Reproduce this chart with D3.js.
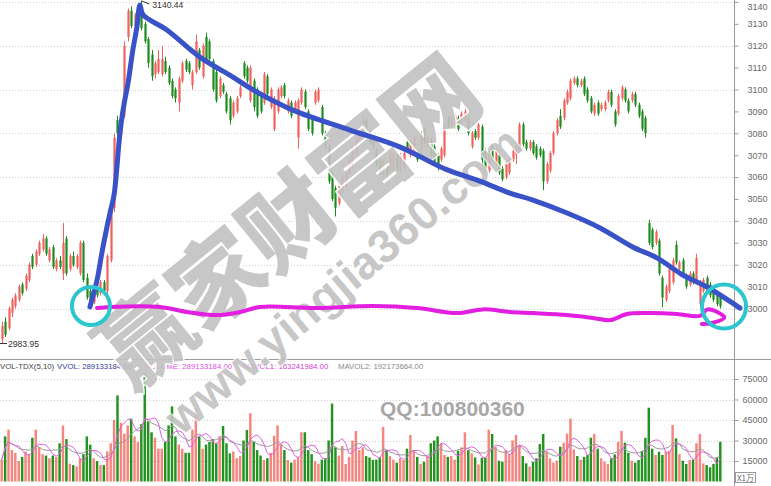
<!DOCTYPE html>
<html><head><meta charset="utf-8">
<script src="https://cdn.jsdelivr.net/npm/d3@7"></script>
<style>body{margin:0;background:#fff;overflow:hidden}svg{display:block}</style>
</head><body><svg id="c" width="771" height="486"></svg>
<script>
// ---------- DATA ----------
const opens = [
2986,2994,2991,2998,3001,3004,3011,3009,3013,3024, 3020,3025,3027,3032,3022,3028,3018,3022,3016,3032,
3018,3024,3019,3016,3030,3014,3008,3003,3009,3007, 3012,3008,3022,3046,3086,3080,3088,3124,3136,3129,
3133,3137,3130,3123,3116,3107,3108,3107,3113,3110, 3104,3100,3094,3104,3113,3112,3102,3108,3118,3106,
3124,3122,3113,3108,3097,3102,3098,3096,3088,3090, 3097,3112,3110,3095,3104,3100,3097,3094,3106,3092,
3082,3090,3097,3102,3090,3094,3090,3078,3094,3099, 3090,3086,3094,3095,3092,3080,3074,3062,3055,3048,
3053,3056,3062,3065,3070,3077,3080,3086,3080,3078, 3072,3068,3061,3066,3063,3064,3070,3063,3064,3076,
3070,3072,3071,3073,3082,3074,3077,3074,3070,3068, 3070,3087,3083,3084,3087,3085,3086,3087,3074,3081,
3078,3083,3072,3063,3074,3066,3070,3064,3060,3062, 3068,3070,3072,3084,3076,3073,3076,3074,3073,3072,
3058,3063,3071,3080,3088,3087,3094,3096,3103,3105, 3102,3105,3100,3096,3089,3094,3091,3091,3095,3099,
3090,3089,3096,3100,3095,3095,3098,3093,3090,3087, 3039,3036,3030,3031,3014,3004,3008,3012,3029,3018,
3022,3015,3011,3016,3012,3002,3008,3014,3011,3008, 3007,3005];
const highs = [
2994,2996,3001,3005,3007,3011,3012,3016,3021,3025, 3027,3031,3034,3033,3028,3029,3023,3024,3039,3033,
3025,3026,3025,3031,3031,3016,3009,3009,3010,3013, 3013,3025,3045,3080,3088,3090,3122,3137,3138,3135,
3139,3140.44,3131,3124,3118,3113,3118,3120,3115,3111, 3105,3101,3106,3113,3114,3113,3109,3125,3119,3121,
3126,3123,3114,3109,3106,3103,3099,3097,3095,3097, 3102,3113,3111,3111,3105,3101,3098,3108,3107,3101,
3097,3101,3102,3103,3096,3095,3095,3096,3101,3100, 3091,3087,3100,3101,3093,3081,3075,3063,3056,3057,
3061,3063,3069,3075,3078,3083,3088,3087,3081,3079, 3073,3069,3068,3067,3072,3071,3071,3071,3072,3077,
3077,3079,3072,3081,3083,3079,3078,3075,3071,3074, 3085,3088,3088,3089,3088,3090,3091,3088,3081,3082,
3085,3084,3073,3071,3075,3073,3071,3065,3067,3069, 3073,3075,3085,3085,3077,3077,3077,3075,3074,3073,
3067,3072,3081,3087,3091,3096,3100,3105,3106,3106, 3105,3106,3101,3097,3094,3095,3094,3095,3100,3100,
3091,3098,3102,3101,3096,3099,3099,3094,3091,3088, 3040.5,3037,3036,3032,3015,3011,3019,3023,3031,3022,
3023,3016,3017,3017,3025,3013,3014,3015,3012,3009, 3008,3006];
const lows = [
2984,2987,2990,2996,3000,3003,3006,3008,3012,3018, 3019,3024,3026,3024,3021,3018,3017,3018,3013,3015,
3017,3019,3018,3015,3012,3004,3001,3002,3005,3006, 3007,3007,3021,3044,3079,3079,3087,3122,3128,3127,
3131,3127,3121,3110,3104,3105,3107,3106,3107,3102, 3096,3094,3090,3103,3108,3107,3100,3107,3109,3105,
3112,3113,3099,3094,3096,3098,3089,3084,3087,3089, 3096,3105,3103,3094,3090,3087,3089,3093,3097,3091,
3081,3089,3096,3096,3089,3087,3089,3073,3093,3091, 3081,3079,3093,3094,3079,3073,3057,3049,3042,3047,
3052,3055,3061,3064,3069,3076,3079,3077,3075,3073, 3065,3061,3060,3060,3062,3063,3063,3062,3063,3071,
3069,3071,3067,3072,3075,3073,3069,3065,3063,3067, 3069,3082,3082,3083,3081,3084,3085,3079,3073,3077,
3077,3065,3063,3062,3067,3065,3061,3058,3059,3061, 3067,3066,3071,3074,3072,3072,3070,3068,3069,3054,
3057,3062,3070,3079,3082,3086,3093,3095,3102,3101, 3101,3097,3094,3089,3088,3088,3090,3090,3094,3092,
3083,3088,3095,3094,3089,3094,3092,3087,3081,3078, 3029,3027,3029,3015,3000.5,3003,3007,3011,3020,3017,
3014,3009,3010,3011,3011,3001,3007,3007,3005,3003, 3001,3000];
const closes = [
2992,2988,3000,3004,3006,3010,3007,3015,3020,3019, 3026,3030,3032,3025,3027,3019,3022,3019,3030,3016,
3024,3020,3024,3030,3013,3005,3002,3008,3006,3012, 3008,3024,3044,3078,3080,3088,3120,3136,3129,3134,
3138,3128,3122,3112,3106,3112,3114,3114,3108,3103, 3097,3096,3105,3112,3109,3108,3108,3122,3110,3120,
3113,3114,3100,3095,3105,3099,3090,3086,3094,3096, 3101,3106,3104,3110,3092,3088,3090,3107,3098,3100,
3096,3100,3101,3097,3095,3088,3094,3095,3100,3092, 3082,3080,3099,3100,3080,3074,3058,3050,3046,3056,
3060,3062,3068,3074,3077,3082,3086,3078,3076,3074, 3066,3062,3067,3061,3071,3070,3064,3070,3071,3072,
3076,3078,3068,3080,3076,3078,3070,3066,3064,3073, 3084,3083,3087,3088,3082,3089,3090,3080,3080,3078,
3084,3068,3064,3070,3068,3072,3062,3059,3066,3068, 3072,3074,3084,3075,3073,3076,3071,3069,3070,3058,
3066,3071,3080,3086,3083,3095,3099,3104,3105,3102, 3104,3098,3095,3090,3093,3089,3093,3094,3099,3093,
3084,3097,3101,3095,3090,3098,3093,3088,3082,3080, 3030,3028,3035,3016,3005,3010,3018,3022,3021,3021,
3015,3010,3016,3012,3023,3012,3013,3008,3006,3004, 3002,3001];
const volumes = [ // x1万
16000,33000,38000,23000,21000,15000,18000,22000,20000,32000, 38000,25000,20000,19000,17000,19000,18000,28000,41000,31000,
13000,12000,11000,17000,20000,33000,27000,17000,15000,12000, 12000,22000,28000,45000,63000,43000,35000,41000,46000,33000,
29000,42000,79000,44000,36000,32000,24000,24000,29000,41000, 55000,33000,27000,24000,21000,21000,
38000,53600,33000,24000,27000,29000,31000,28000,33000,40600, 28000,20600,22000,17000,18600,30000,37700,50000,29000,23000,
19000,15700,17000,21000,33500,41000,27000,23000,15700,13800, 16000,18000,36000,36000,23000,20000,15000,13000,16000,17000,
30000,57000,25000,19000,26000,12800,18000,30000,37000,23000, 25000,18600,17600,15700,16000,17600,
40000,23000,18600,16000,13800,17000,15700,24000,34000,22500, 18000,12800,14500,18600,28000,30000,33000,28000,19400,18000,
18600,16000,22500,25000,36000,23000,20600,17600,12500,17400, 17600,38000,34800,25500,15200,14500,23000,20000,30000,34000,
26700,18600,13300,10900,14500,17000,27400,34800,21800,17000, 13800,15200,25500,28400,35000,46000,
23500,18600,16000,18000,19400,32000,34800,24000,17000,14500, 12800,17000,19800,29000,37000,28400,21000,15200,13800,15700,
22300,32000,54000,24000,19400,21800,19400,21800,22300,41400, 31600,20000,15200,12800,15700,16000,28000,34800,13300,12000,
10400,12800,17600,29000];
const priceTicks = [3000,3010,3020,3030,3040,3050,3060,3070,3080,3090,3100,3110,3120,3130,3140];
const priceGrid = [3000,3020,3040,3060,3080,3100,3120,3140];
const volTicks = [15000,30000,45000,60000,75000];
const peakLabel = "3140.44", lowLabel = "2983.95";
const headerItems = [
  {t:"VOL-TDX(5,10)", c:"#444", x:0},
  {t:"VVOL: 289133184.00", c:"#3a3a98", x:57},
  {t:"VOLUME: 289133184.00", c:"#e050e0", x:145},
  {t:"MAVOL1: 163241984.00", c:"#d040d0", x:243},
  {t:"MAVOL2: 192173664.00", c:"#8a8a8a", x:338}
];
// hand-drawn annotations, in (candle index, price) space
const blueTrend = [[25.9,3000.7],[28.0,3013],[29.4,3025.3],[30.9,3037.2],[31.8,3043.6],[33.0,3052],[33.8,3064],
 [34.4,3075],[35.1,3085],[36.0,3094],[37.1,3103],[38.5,3118],[39.7,3128.5],[40.6,3138.6],
 [41.5,3134.1],[48.5,3127.2],[58.2,3114.8],[67.9,3105.7],[72.9,3100.7],[85.5,3090.6],[102.3,3081.5],
 [117,3073.7],[130.5,3063.5],[140.4,3058.2],[149.2,3052.7],[156,3049.5],[166,3043.6],[175.7,3036.8],
 [185.3,3028.1],[192.4,3023.1],[200,3015.3],[207.1,3009.8],[216.8,3000.2]];
const magentaLine = [[28.0,3000.2],[31.8,3000.7],[46.5,3000.7],[54.4,2998.4],[63.2,2997],[70,2998.4],[75.8,3000.7],
 [92.6,3000.2],[109,3001.1],[121.9,3000.2],[133.7,2997.9],[141.3,2999.6],[149.2,2998.4],[156,2997.9],
 [166,2997],[173.6,2995.7],[178.6,2994.7],[183.6,2997.5],[190.3,2997.9],[198.3,2997.5],[205,2996.6],
 [207.3,2999.6],[212.2,2995.9],[208.6,2993.4],[205.6,2992.9]];
const circles = [{i:26.2,p:3001.1,r:19},{i:212.1,p:3000.9,r:22}];

// ---------- CHART ----------
const N = closes.length;
const svg = d3.select("#c");
const W = 771, H = 486, axisX = 734, plotW = 722;
const xs = d3.scaleLinear().domain([-0.5, N - 0.5]).range([0, plotW]);
const step = xs(1) - xs(0);
const y = d3.scaleLinear().domain([3000, 3140]).range([308.5, 1.9]);
const yv = d3.scaleLinear().domain([0, 75000]).range([481.5, 379]);
const up = i => closes[i] >= opens[i];
const RED = "#f0625f", GREEN = "#1e8b1e", VRED = "#f5857f", VGREEN = "#23931f";

// gridlines
svg.append("g").selectAll("line").data(priceGrid).join("line")
  .attr("x1",0).attr("x2",axisX).attr("y1",d=>Math.round(y(d))+0.5).attr("y2",d=>Math.round(y(d))+0.5)
  .attr("stroke","#cfcfcf").attr("stroke-dasharray","1,2");
svg.append("g").selectAll("line").data(volTicks).join("line")
  .attr("x1",0).attr("x2",axisX).attr("y1",d=>Math.round(yv(d))+0.5).attr("y2",d=>Math.round(yv(d))+0.5)
  .attr("stroke","#cfcfcf").attr("stroke-dasharray","1,2");

// candles
const cg = svg.append("g");
const idx = d3.range(N);
cg.selectAll("line").data(idx).join("line")
  .attr("x1",i=>Math.round(xs(i))+0.5).attr("x2",i=>Math.round(xs(i))+0.5)
  .attr("y1",i=>y(highs[i])).attr("y2",i=>y(lows[i]))
  .attr("stroke",i=>up(i)?RED:GREEN).attr("stroke-width",1);
cg.selectAll("rect").data(idx).join("rect")
  .attr("x",i=>Math.round(xs(i))-0.6).attr("width",2.2)
  .attr("y",i=>y(Math.max(opens[i],closes[i])))
  .attr("height",i=>Math.max(1,Math.abs(y(opens[i])-y(closes[i]))))
  .attr("fill",i=>up(i)?RED:GREEN);

// volume bars
svg.append("g").selectAll("rect").data(idx).join("rect")
  .attr("x",i=>xs(i)-step*0.36).attr("width",step*0.72)
  .attr("y",i=>yv(volumes[i])).attr("height",i=>yv(0)-yv(volumes[i]))
  .attr("fill",i=>up(i)?VRED:VGREEN);

// moving averages of volume
function ma(n){ return idx.map(i=>d3.mean(volumes.slice(Math.max(0,i-n+1),i+1))); }
const ma5 = ma(5), ma10 = ma(10);
const vline = d3.line().x((d,i)=>xs(i)).y(d=>yv(d)).curve(d3.curveLinear);
svg.append("path").attr("d",vline(ma10)).attr("fill","none").attr("stroke","#9a9a9a").attr("stroke-width",1);
svg.append("path").attr("d",vline(ma5)).attr("fill","none").attr("stroke","#e060e0").attr("stroke-width",1);

// frame / separator
svg.append("line").attr("x1",0).attr("x2",W).attr("y1",359.5).attr("y2",359.5).attr("stroke","#9a9a9a");
svg.append("line").attr("x1",axisX+0.5).attr("x2",axisX+0.5).attr("y1",0).attr("y2",H).attr("stroke","#9a9a9a");

// axes
const pa = svg.append("g").attr("transform",`translate(${axisX+0.5},0)`)
  .call(d3.axisRight(y).tickValues(priceTicks).tickSize(4).tickPadding(9).tickFormat(d3.format("d")));
const va = svg.append("g").attr("transform",`translate(${axisX+0.5},0)`)
  .call(d3.axisRight(yv).tickValues(volTicks).tickSize(4).tickPadding(4).tickFormat(d3.format("d")));
[pa,va].forEach(a=>{
  a.select(".domain").remove();
  a.selectAll("line").attr("stroke","#9a9a9a");
  a.selectAll("text").attr("fill","#6a6a6a").style("font","9px 'Liberation Sans', Arial, sans-serif");
});
// keep the topmost price label inside the picture
pa.selectAll(".tick text").attr("dy",d=>y(d)<5?"0.85em":"0.32em");
// X1万 box
svg.append("rect").attr("x",735.5).attr("y",472.5).attr("width",20).attr("height",10).attr("fill","#fff").attr("stroke","#9a9a9a");
svg.append("text").attr("x",745.5).attr("y",480.5).attr("text-anchor","middle").attr("fill","#6a6a6a")
  .style("font","8px 'Noto Sans CJK SC', sans-serif").text("X1万");

// header
svg.append("g").selectAll("text").data(headerItems).join("text")
  .attr("x",d=>d.x).attr("y",369).attr("fill",d=>d.c)
  .style("font","7.8px 'Liberation Sans', Arial, sans-serif").text(d=>d.t);

// peak & low labels
const pk = d3.maxIndex(highs), lo = d3.minIndex(lows);
svg.append("path").attr("d",`M${xs(pk)},${y(highs[pk])} L${xs(pk)+8},${y(highs[pk])+3}`).attr("stroke","#333").attr("fill","none");
svg.append("text").attr("x",xs(pk)+11).attr("y",y(highs[pk])+7).attr("fill","#333")
  .style("font","8.6px 'Liberation Sans', Arial, sans-serif").text(peakLabel);
svg.append("line").attr("x1",0).attr("x2",7).attr("y1",y(lows[lo])).attr("y2",y(lows[lo])).attr("stroke","#333");
svg.append("text").attr("x",8).attr("y",y(lows[lo])+3.5).attr("fill","#333")
  .style("font","8.6px 'Liberation Sans', Arial, sans-serif").text(lowLabel);

// watermark
const wm = svg.append("g").attr("opacity",0.9);
wm.append("text").attr("transform","translate(284,216) rotate(-39)")
  .attr("text-anchor","middle").attr("dominant-baseline","central")
  .attr("fill","#c2c2c2").attr("stroke","#fff").attr("stroke-width",3).attr("paint-order","stroke")
  .style("font","900 92px 'Noto Sans CJK SC', sans-serif").text("赢家财富网");
wm.append("text").attr("transform","translate(343,280) rotate(-40)")
  .attr("text-anchor","middle").attr("dominant-baseline","central")
  .attr("fill","#c2c2c2").attr("stroke","#fff").attr("stroke-width",2).attr("paint-order","stroke")
  .style("font","bold 46px 'Liberation Sans', Arial, sans-serif").text("www.yingjia360.com");
svg.append("text").attr("x",380).attr("y",416).attr("fill","#a8a8a8")
  .style("font","bold 21px 'Liberation Sans', Arial, sans-serif").text("QQ:100800360");

// hand-drawn annotations
const aline = d3.line().x(d=>xs(d[0])).y(d=>y(d[1])).curve(d3.curveCatmullRom.alpha(0.5));
svg.append("path").attr("d",aline(magentaLine)).attr("fill","none").attr("stroke","#e21ee0")
  .attr("stroke-width",4).attr("stroke-linecap","round").attr("stroke-linejoin","round");
svg.append("path").attr("d",aline(blueTrend)).attr("fill","none").attr("stroke","#3a52c8")
  .attr("stroke-width",5).attr("stroke-linecap","round").attr("stroke-linejoin","round");
svg.append("g").selectAll("circle").data(circles).join("circle")
  .attr("cx",d=>xs(d.i)).attr("cy",d=>y(d.p)).attr("r",d=>d.r)
  .attr("fill","none").attr("stroke","#2cc6cf").attr("stroke-width",4);
</script></body></html>
